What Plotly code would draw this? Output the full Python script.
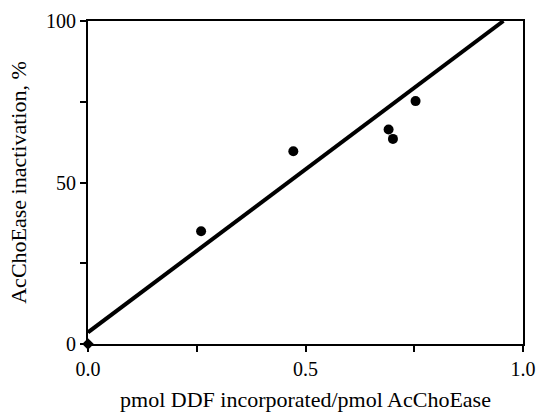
import plotly.graph_objects as go

ddf_incorporated = [0.260, 0.472, 0.691, 0.701, 0.753]
inactivation_pct = [34.9, 59.7, 66.4, 63.5, 75.2]

# origin point
origin_x = [0.0]
origin_y = [0.0]

# fitted line ends
fit_x = [0.0, 0.955]
fit_y = [3.6, 100.0]

x_ticks = [0.0, 0.25, 0.5, 0.75, 1.0]
x_ticklabels = ["0.0", "", "0.5", "", "1.0"]
y_ticks = [0, 25, 50, 75, 100]
y_ticklabels = ["0", "", "50", "", "100"]

font_family = "Liberation Serif"

fig = go.Figure()
fig.add_trace(go.Scatter(
    x=fit_x, y=fit_y, mode="lines",
    line=dict(color="black", width=4),
    cliponaxis=False, showlegend=False,
))
fig.add_trace(go.Scatter(
    x=ddf_incorporated, y=inactivation_pct, mode="markers",
    marker=dict(color="black", size=10),
    showlegend=False,
))
fig.add_trace(go.Scatter(
    x=origin_x, y=origin_y, mode="markers",
    marker=dict(color="black", size=9, symbol="diamond"),
    cliponaxis=False, showlegend=False,
))

axis_style = dict(
    showline=True, linecolor="black", linewidth=2, mirror=True,
    showgrid=False, zeroline=False, automargin=False,
    ticks="outside", ticklen=6, tickwidth=2, tickcolor="black",
    tickfont=dict(family=font_family, size=20, color="black"),
)

fig.update_layout(
    width=538, height=412,
    margin=dict(l=88, r=15, t=21, b=68),
    plot_bgcolor="white", paper_bgcolor="white",
    font=dict(family=font_family, color="black"),
    hovermode=False,
    xaxis=dict(
        range=[0, 1.0], tickvals=x_ticks, ticktext=x_ticklabels,
        ticklabeloverflow="allow",
        title=dict(text="pmol DDF incorporated/pmol AcChoEase",
                   font=dict(family=font_family, size=22), standoff=13),
        **axis_style,
    ),
    yaxis=dict(
        range=[0, 100], tickvals=y_ticks, ticktext=y_ticklabels,
        title=dict(text="AcChoEase inactivation, %",
                   font=dict(family=font_family, size=22), standoff=13),
        **axis_style,
    ),
)

# drop the default page margin so the figure sits at the window corner
fig.write_html("out.html", config={"displayModeBar": False},
               post_script="document.body.style.margin = '0';")
